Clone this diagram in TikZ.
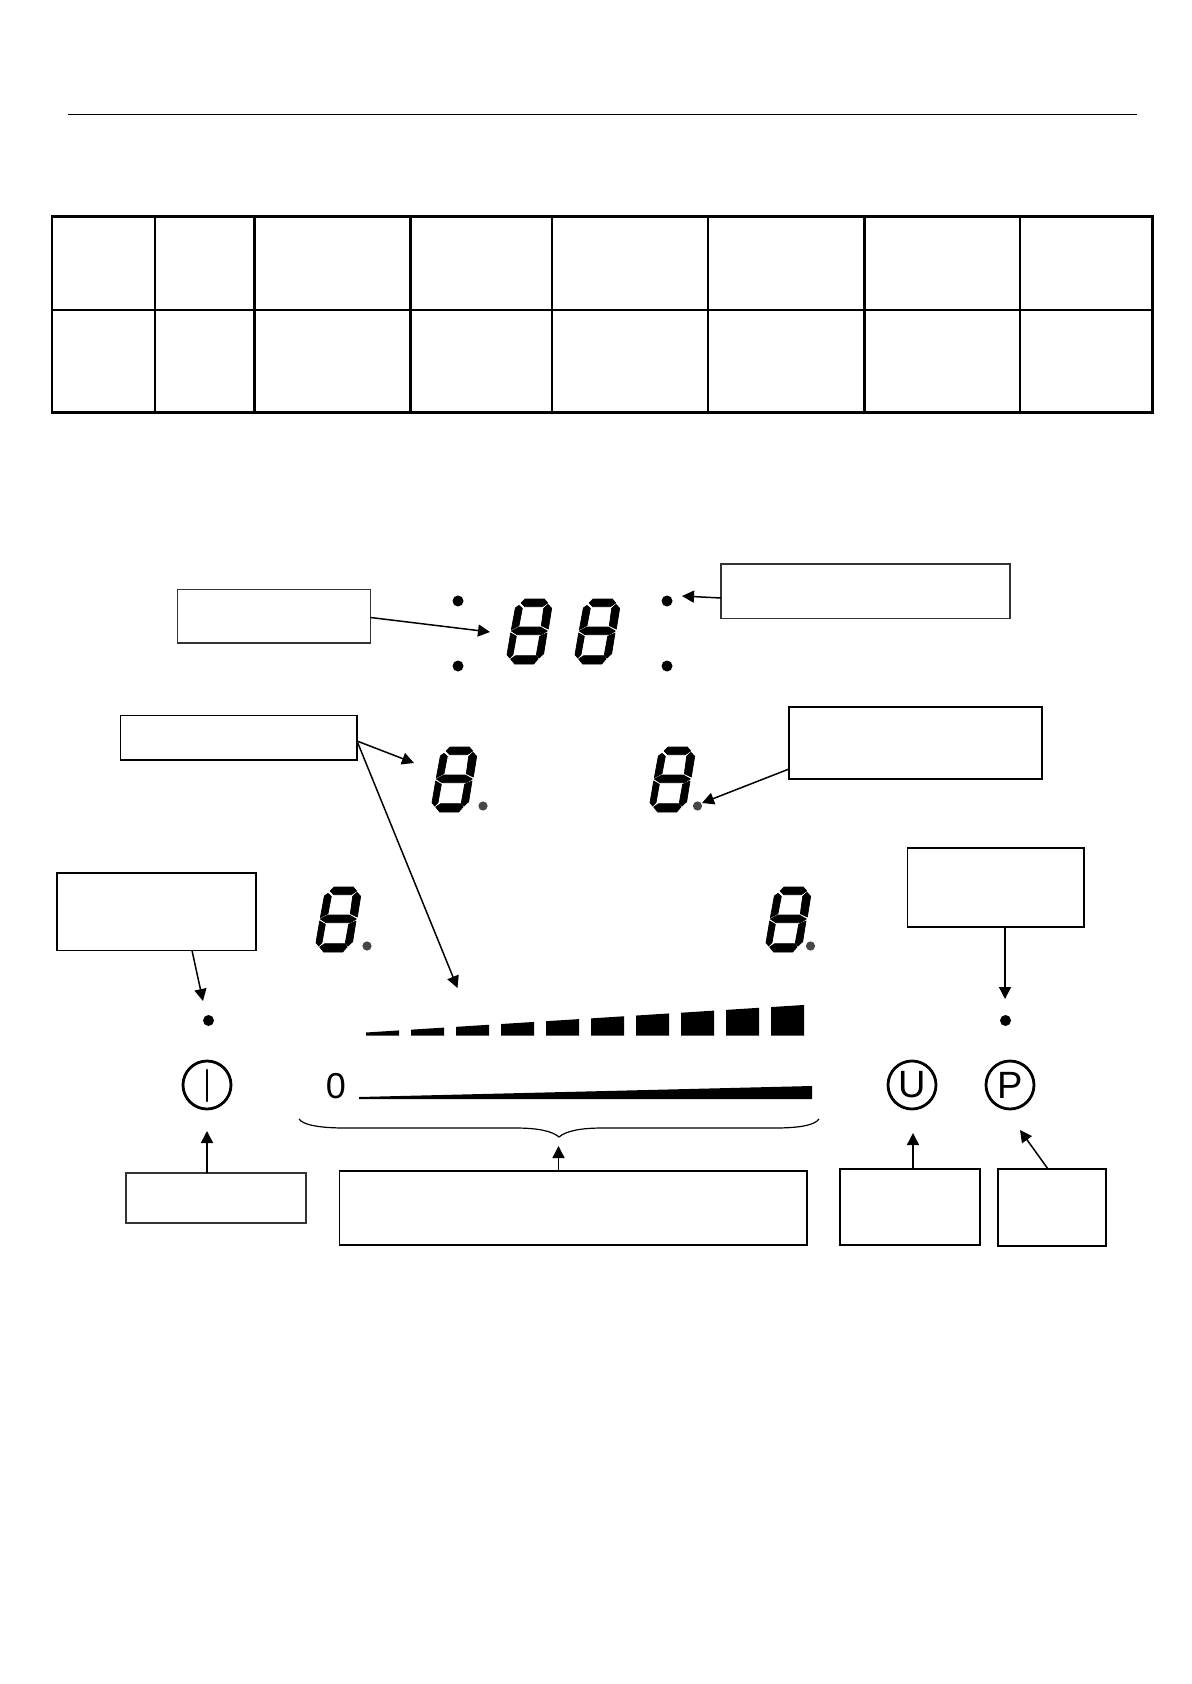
\documentclass[tikz,border=0pt]{standalone}
\usepackage{fontspec}
\setmainfont{Liberation Sans}
\usetikzlibrary{arrows.meta}
\tikzset{
  boxthick/.style={draw=black,line width=0.95pt,inner sep=0pt,outer sep=0pt,fill=white},
  boxthin/.style={draw=black!80,line width=0.55pt,inner sep=0pt,outer sep=0pt,fill=white},
  arr/.style={draw=black,line width=0.75pt,-{Triangle[length=6pt,width=6pt]},shorten >=0pt},
  ringsym/.style={circle,draw=black,line width=1.4pt,minimum size=24pt,inner sep=0pt,font=\fontsize{19}{19}\selectfont},
  leddot/.style={circle,fill=black,inner sep=0pt,minimum size=5.5pt},
  greydot/.style={circle,fill=black!72,inner sep=0pt,minimum size=4.6pt},
  tableline/.style={draw=black,line width=1.1pt},
  seg/.style={fill=black,draw=black,line width=0.35pt,line join=round},
}
\newcommand{\bx}[6]{\node[#1,minimum width={(#5-#3)*0.5pt},minimum height={(#6-#4)*0.5pt}] (#2) at ({(#3+#5)/2},{(#4+#6)/2}) {};}
\newcommand{\segdigit}[2]{%
  \begin{scope}[shift={(#1,#2)},scale=1/3]
    \path[seg] (42,12)--(54,0)--(112,0)--(122,12)--(106,23)--(53,23)--cycle;
    \path[seg] (25,27)--(36,19)--(46,28)--(36,80)--(13,92)--cycle;
    \path[seg] (110,28)--(123,16)--(134,28)--(124,90)--(103,80)--cycle;
    \path[seg] (13,96)--(36,84)--(100,84)--(121,96)--(103,107)--(30,107)--cycle;
    \path[seg] (11,102)--(28,112)--(18,167)--(8,177)--(0,167)--cycle;
    \path[seg] (98,112)--(120,102)--(110,164)--(96,177)--(88,167)--cycle;
    \path[seg] (11,180)--(26,170)--(88,170)--(93,180)--(80,195)--(23,195)--cycle;
  \end{scope}}
\begin{document}
\begin{tikzpicture}[x=0.5pt,y=-0.5pt]
\fill[white] (0,0) rectangle (1191,1684);
\useasboundingbox (0,0) rectangle (1191,1684);
% header rule
\draw[line width=0.5pt] (68,114.5) -- (1136.5,114.5);
% table
\draw[tableline] (52,216.5) rectangle (1152.5,412.5);
\draw[tableline] (52,310) -- (1152.5,310);
\foreach \tx in {155,254.5,410.5,552,708,864.5,1020}
  \draw[tableline] (\tx,216.5) -- (\tx,412.5);
% seven segment digits
\segdigit{507}{599}
\segdigit{575}{599}
\segdigit{432}{747}
\segdigit{650}{747}
\segdigit{316}{887}
\segdigit{766}{887}
% dots
\node[leddot] (d1) at (458,601) {};
\node[leddot] (d2) at (458,666) {};
\node[leddot] (d3) at (667,601) {};
\node[leddot] (d4) at (667,666) {};
\node[leddot] (d5) at (208.5,1020.5) {};
\node[leddot] (d6) at (1005.5,1020.5) {};
\node[greydot] (g1) at (483,806) {};
\node[greydot] (g2) at (697.5,806) {};
\node[greydot] (g3) at (367,946) {};
\node[greydot] (g4) at (810.5,946) {};
% power bars
\foreach \k in {0,...,9}{
  \pgfmathsetmacro{\xa}{366+45*\k}
  \pgfmathsetmacro{\xb}{\xa+33}
  \pgfmathsetmacro{\ya}{1032.5-0.0628*45*\k}
  \pgfmathsetmacro{\yb}{\ya-2.1}
  \fill (\xa,1035.5) -- (\xa,\ya) -- (\xb,\yb) -- (\xb,1035.5) -- cycle;
}
% long wedge
\fill (359,1099) -- (359,1097) -- (812,1086) -- (812,1099) -- cycle;
\node[inner sep=0pt,font=\fontsize{18}{18}\selectfont] (zero) at (336,1086.5) {0};
% symbols
\node[ringsym] (pwr) at (207,1085) {};
\draw[line width=1.4pt,line cap=round] (207,1070) -- (207,1101);
\node[ringsym] (usym) at (912,1085) {U};
\node[ringsym] (psym) at (1010,1085) {P};
% brace
\draw[line width=0.6pt] (299,1119) .. controls (303,1125) and (320,1128) .. (345,1128)
  -- (515,1128) .. controls (538,1128) and (552,1131) .. (559,1137)
  .. controls (566,1131) and (580,1128) .. (603,1128)
  -- (775,1128) .. controls (800,1128) and (815,1125) .. (819,1119);
% boxes
\bx{boxthin}{a}{177.5}{589.5}{370.5}{643}
\bx{boxthin}{b}{721}{564}{1010}{618.5}
\bx{boxthick}{c}{120.5}{715.5}{357}{760}
\bx{boxthick}{dd}{789}{707}{1042}{779}
\bx{boxthick}{e}{57}{873}{256}{950.5}
\bx{boxthick}{f}{907.5}{848}{1084}{927}
\bx{boxthin}{gg}{126}{1173}{306}{1223}
\bx{boxthick}{h}{339.5}{1171}{807}{1245}
\bx{boxthick}{i}{840}{1169}{980}{1245}
\bx{boxthick}{j}{998}{1169}{1106}{1246}
% arrow targets
\coordinate (ta) at (490,632);
\coordinate (tb) at (682,596);
\coordinate (tc1) at (414,763);
\coordinate (tc2) at (457.5,988);
\coordinate (td) at (702,803);
\coordinate (te) at (203,1001);
\coordinate (tf) at (1005,999);
\coordinate (tg) at (207,1131);
\coordinate (th) at (558.5,1146);
\coordinate (ti) at (913,1133);
\coordinate (tj) at (1020,1130);
\coordinate (sa) at (370.5,617.5);
\coordinate (sb) at (721,598);
\coordinate (sc) at (357,741);
\coordinate (sd) at (789,769);
\coordinate (se) at (192,950.5);
\coordinate (sf) at (1005,927);
\coordinate (sg) at (207,1173);
\coordinate (sh) at (558.5,1171);
\coordinate (si) at (913,1169);
\coordinate (sj) at (1048,1169);
\draw[arr] (sa) -- (ta);
\draw[arr] (sb) -- (tb);
\draw[arr] (sc) -- (tc1);
\draw[arr] (sc) -- (tc2);
\draw[arr] (sd) -- (td);
\draw[arr] (se) -- (te);
\draw[arr] (sf) -- (tf);
\draw[arr] (sg) -- (tg);
\draw[arr] (sh) -- (th);
\draw[arr] (si) -- (ti);
\draw[arr] (sj) -- (tj);
\end{tikzpicture}
\end{document}
